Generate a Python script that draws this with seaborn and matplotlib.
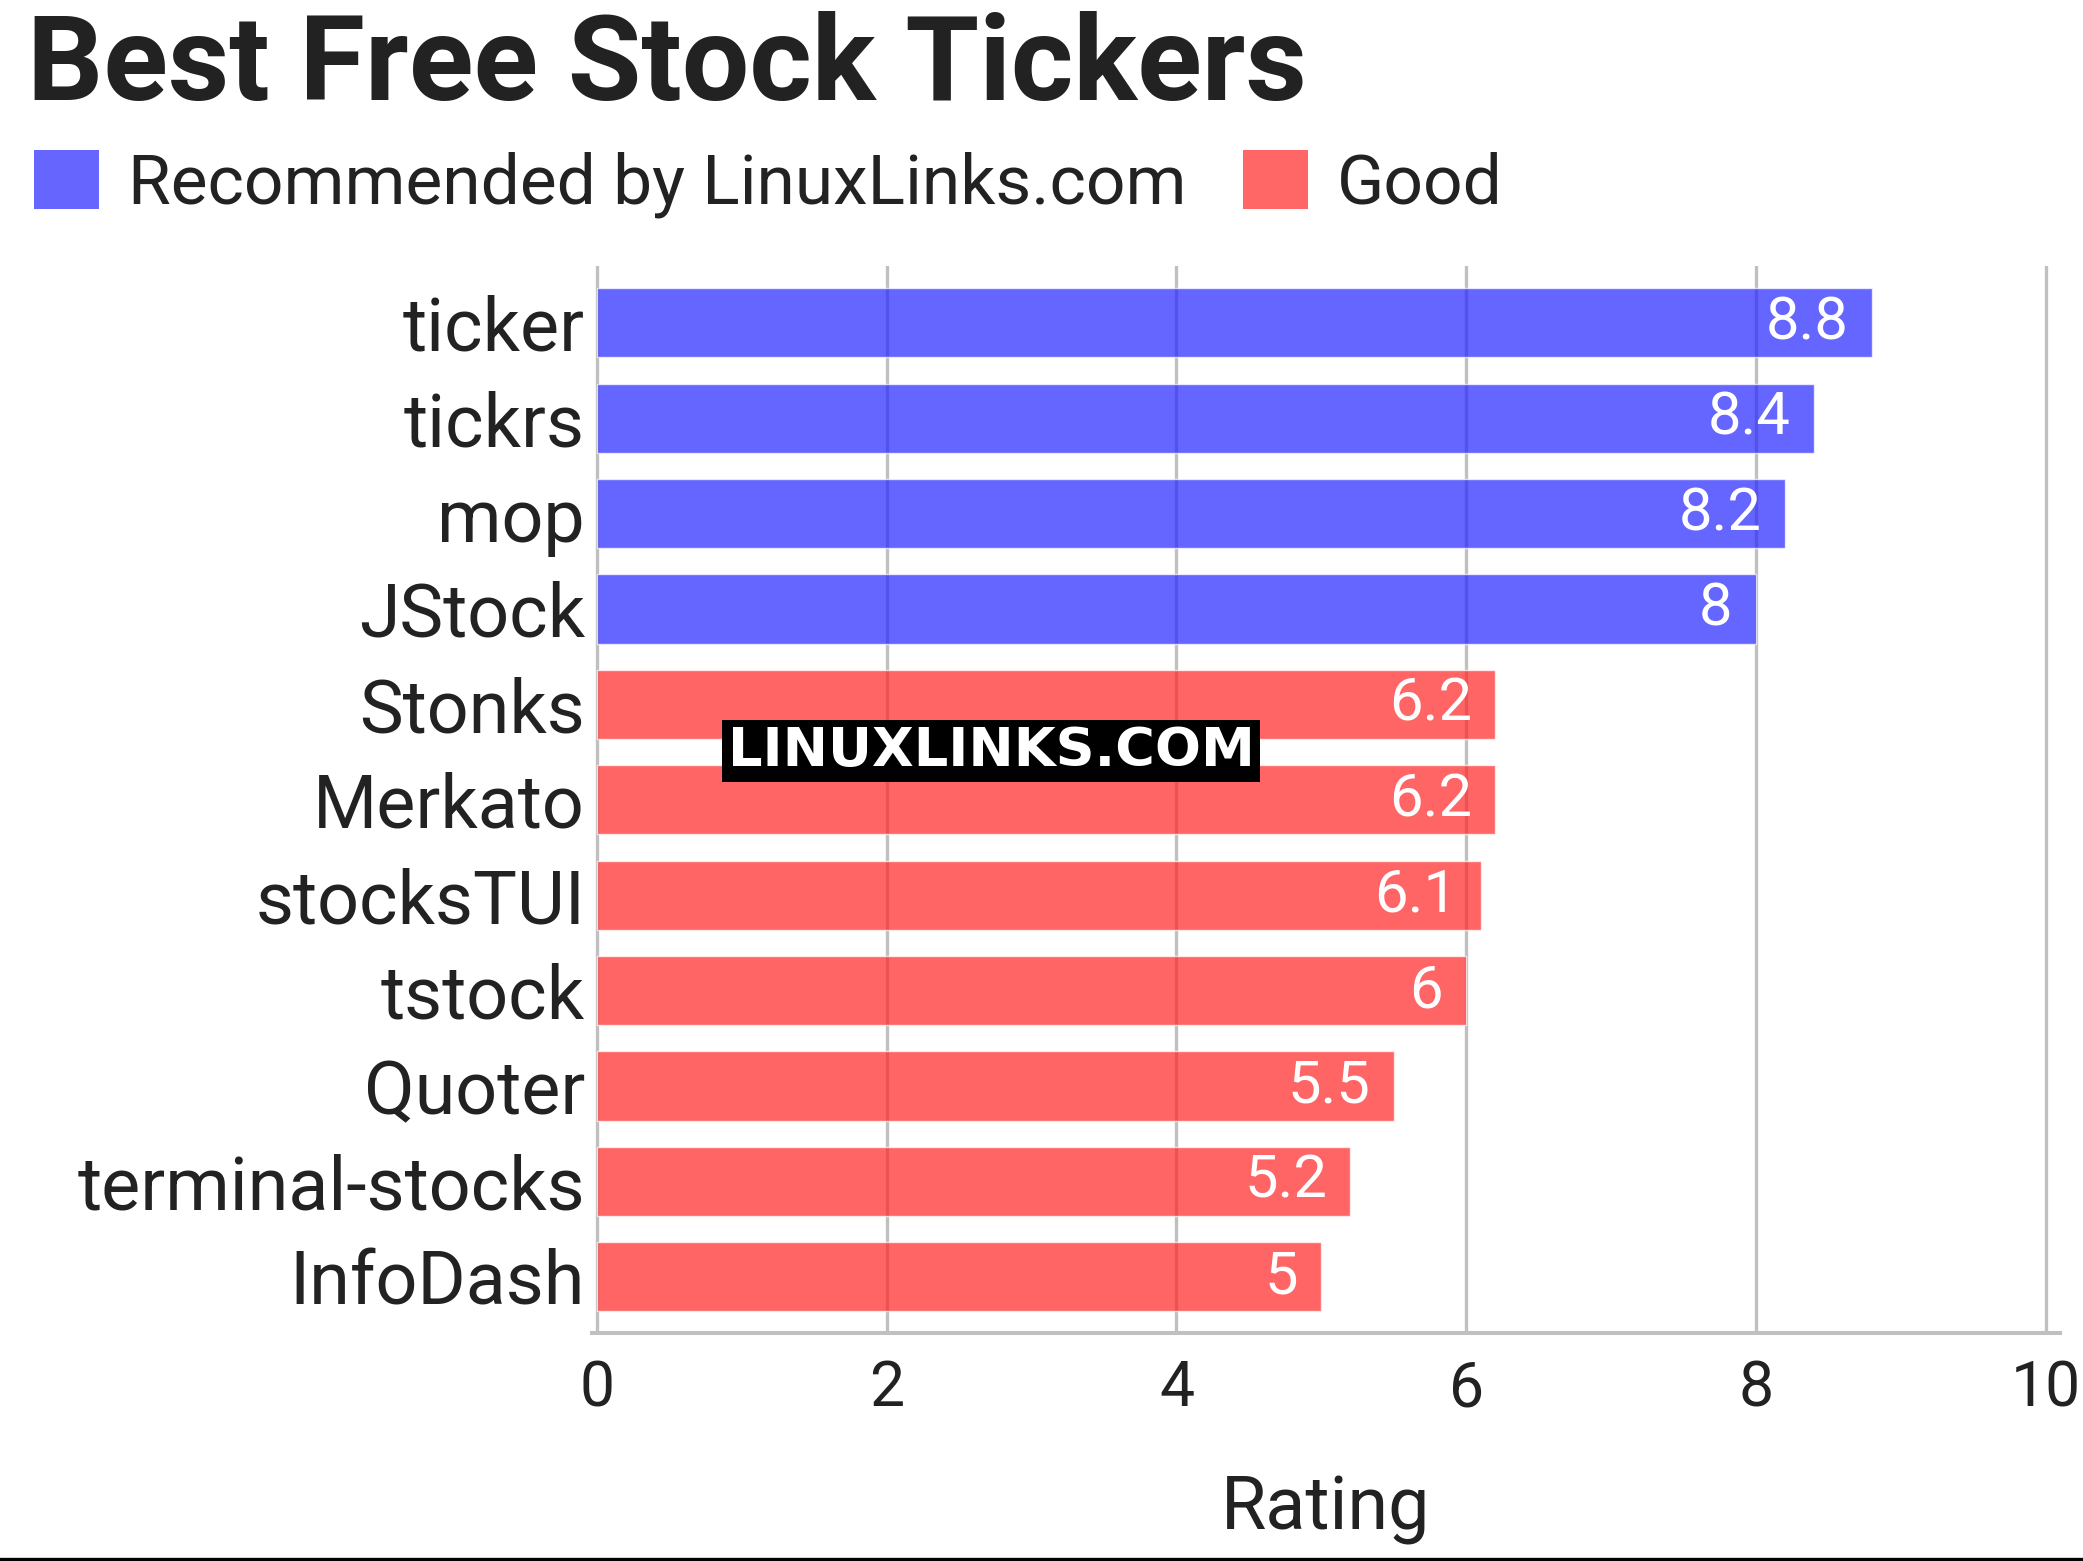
import matplotlib
matplotlib.use("Agg")
import matplotlib.pyplot as plt
from matplotlib.patches import Patch
from matplotlib.lines import Line2D
import seaborn as sns
import pandas as pd

names = ["ticker", "tickrs", "mop", "JStock", "Stonks", "Merkato", "stocksTUI",
         "tstock", "Quoter", "terminal-stocks", "InfoDash"]
ratings = [8.8, 8.4, 8.2, 8, 6.2, 6.2, 6.1, 6, 5.5, 5.2, 5]
groups = ["Recommended by LinuxLinks.com"] * 4 + ["Good"] * 7
group_names = ["Recommended by LinuxLinks.com", "Good"]
value_labels = ["8.8", "8.4", "8.2", "8", "6.2", "6.2", "6.1", "6", "5.5", "5.2", "5"]
xticks = [0, 2, 4, 6, 8, 10]

sns.set_theme(style="white")
plt.rcParams["font.family"] = ["Roboto", "DejaVu Sans"]

TXT = "#222222"
base_colors = {"Recommended by LinuxLinks.com": "#2424ff", "Good": "#ff2424"}
shown_colors = {"Recommended by LinuxLinks.com": "#6666ff", "Good": "#ff6666"}

df = pd.DataFrame({"Name": names, "Rating": ratings, "Group": groups})

W, H = 2083, 1562
fig = plt.figure(figsize=(W / 100, H / 100), dpi=100)
ax_l, ax_r, ax_t, ax_b = 592, 2060, 266, 1333
ax = fig.add_axes([ax_l / W, 1 - ax_b / H, (ax_r - ax_l) / W, (ax_b - ax_t) / H])

sns.barplot(data=df, x="Rating", y="Name", hue="Group", palette=base_colors,
            dodge=False, width=0.725, alpha=0.7, legend=False, ax=ax,
            saturation=1, errorbar=None)

ax.set_axisbelow(True)
ax.grid(axis="x", color="#c0c0c0", linewidth=2.4)
ax.grid(axis="y", visible=False)
ax.set_xlim(-0.035, 10.1)
ax.set_ylim(10.59, -0.595)
ax.set_xticks(xticks)
ax.set_xticklabels([str(t) for t in xticks])
for s in ["top", "right", "left"]:
    ax.spines[s].set_visible(False)
ax.spines["bottom"].set_color("#c0c0c0")
ax.spines["bottom"].set_linewidth(2.9)
ax.tick_params(axis="y", length=0, pad=5, labelsize=53, labelcolor=TXT)
ax.tick_params(axis="x", length=0, pad=19, labelsize=45, labelcolor=TXT)
ax.set_ylabel("")
ax.set_xlabel("Rating", fontsize=53, color=TXT, labelpad=39)

for i, (v, lab) in enumerate(zip(ratings, value_labels)):
    ax.text(v - 0.16, i, lab, ha="right", va="center", fontsize=43, color="white")

# title
fig.text(27 / W, 1 - 100 / H, "Best Free Stock Tickers", fontsize=86,
         fontweight="bold", color=TXT, ha="left", va="baseline")

# legend
handles = [Patch(facecolor=shown_colors[g], edgecolor="none") for g in group_names]
leg = fig.legend(handles, group_names, loc="upper left",
                 bbox_to_anchor=(34 / W, 1 - 150 / H), ncol=2, frameon=False,
                 fontsize=50, handlelength=0.94, handleheight=0.94,
                 handletextpad=0.42, columnspacing=0.8, borderpad=0,
                 borderaxespad=0)
for t in leg.get_texts():
    t.set_color(TXT)

# watermark
fig.text(991 / W, 1 - 751 / H, "LINUXLINKS.COM", fontsize=39, fontweight="bold",
         family="DejaVu Sans", color="white", ha="center", va="center",
         bbox=dict(facecolor="black", edgecolor="none", pad=4))

# bottom rule
fig.add_artist(Line2D([0, 1], [1 - 1559 / H, 1 - 1559 / H], color="black",
                      linewidth=2.4, transform=fig.transFigure))

fig.savefig("out.png", dpi=100)
